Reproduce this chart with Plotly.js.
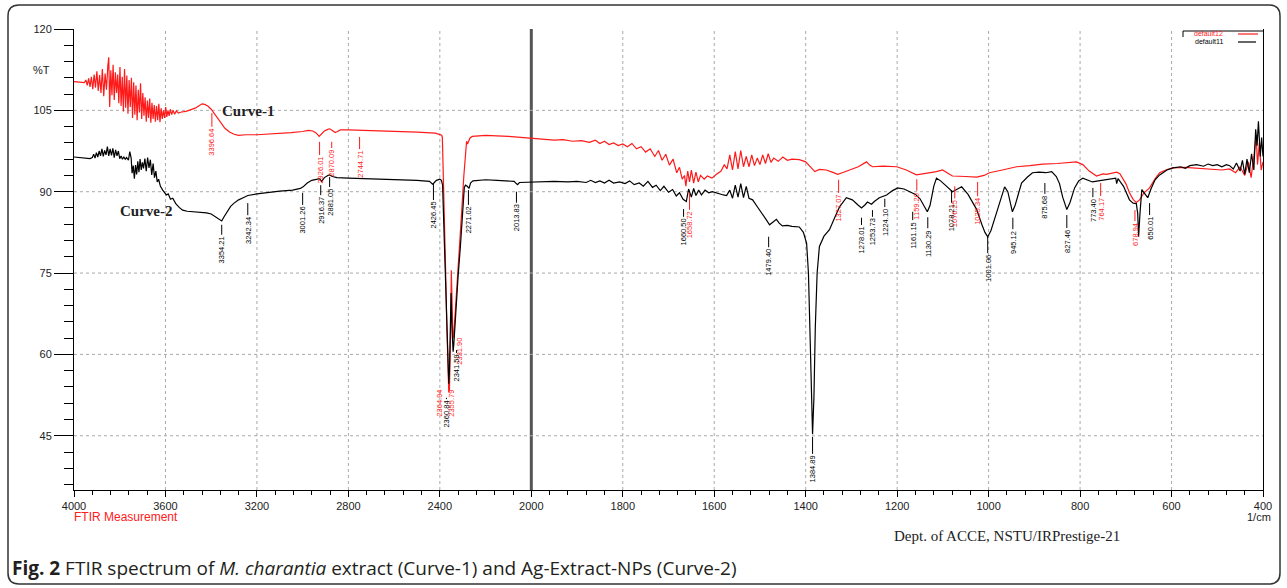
<!DOCTYPE html>
<html><head><meta charset="utf-8">
<script src="https://cdn.plot.ly/plotly-3.0.1.min.js"></script>
<style>html,body{margin:0;padding:0;background:#fff;}#chart{width:1287px;height:588px;}</style>
</head><body><div id="chart"></div>
<script>
// ---- DATA: [wavenumber (1/cm), %T] ----
const curve1 = [ // M. charantia extract (red, "default12")
[4000,110.3],[3975,110.2],[3955,110.1],[3948,110.6],[3942,109.6],[3936,110.9],[3930,109.3],[3924,111.2],[3918,108.9],[3912,111.6],[3906,109.2],[3900,112.2],[3894,108.6],[3888,111.5],[3882,108.2],[3876,112.6],[3870,107.6],[3864,111.8],[3858,108.8],[3852,113.2],[3848,114.8],[3844,105.6],[3839,112.4],[3834,107.8],[3829,113.4],[3824,106.9],[3819,112.0],[3814,108.2],[3809,111.6],[3804,106.3],[3799,113.0],[3794,105.8],[3789,111.2],[3784,104.8],[3779,112.6],[3774,105.5],[3769,111.4],[3764,104.4],[3759,110.6],[3754,105.6],[3749,111.0],[3744,103.6],[3739,110.2],[3734,104.2],[3729,109.6],[3724,103.2],[3719,108.8],[3714,104.6],[3709,110.0],[3704,103.4],[3699,108.2],[3694,104.0],[3689,107.4],[3684,102.9],[3679,106.8],[3674,103.6],[3669,107.2],[3664,102.7],[3659,106.4],[3654,103.4],[3649,106.0],[3644,102.9],[3639,105.8],[3634,103.2],[3629,106.2],[3624,102.8],[3619,105.4],[3614,103.4],[3609,105.0],[3604,103.6],[3599,105.6],[3594,103.8],[3589,105.0],[3584,104.0],[3579,105.2],[3573,104.2],[3567,105.0],[3560,104.3],[3552,104.9],[3544,104.5],[3530,104.7],[3510,104.8],[3490,105.1],[3470,105.4],[3455,105.8],[3440,106.2],[3428,106.1],[3415,105.8],[3400,105.2],[3385,104.3],[3370,103.3],[3355,102.4],[3340,101.7],[3320,101.0],[3300,100.6],[3280,100.4],[3250,100.5],[3200,100.5],[3150,100.6],[3100,100.7],[3050,100.9],[3000,101.1],[2975,101.3],[2955,101.2],[2940,100.8],[2928,100.2],[2918,100.6],[2905,101.2],[2890,101.5],[2882,101.6],[2870,101.3],[2858,100.9],[2848,101.1],[2835,101.4],[2800,101.4],[2700,101.3],[2600,101.2],[2500,101.0],[2420,100.8],[2400,100.6],[2392,100.4],[2389,100.0],
[2385,94],[2380,86],[2375,76],[2370,66],[2365,57],[2361,53.0],[2358,53.5],[2355,58],[2352,66],[2350,75.5],[2348,72],[2346,66],[2343,63.5],[2340,63.0],[2336,65.5],[2325,72],[2315,79],[2305,86],[2295,93],[2286,98.6],[2283,99.3],[2279,98.8],[2275,99.1],[2268,99.9],[2258,100.2],[2200,100.4],[2100,100.2],[2000,99.9],
[1980,99.7],[1950,99.5],[1930,99.6],[1910,99.3],[1890,99.4],[1873,99.1],[1860,99.5],[1850,98.9],[1840,99.3],[1830,98.7],[1820,99.0],[1810,98.5],[1800,98.8],[1790,98.3],[1780,98.9],[1770,97.9],[1760,98.3],[1750,97.3],[1740,97.9],[1730,96.5],[1722,97.6],[1714,95.8],[1706,96.9],[1698,94.9],[1690,96.0],[1682,93.5],[1676,94.5],[1670,92.3],[1665,93.0],[1662,91.0],[1658,93.8],[1654,91.8],[1650,94.0],[1645,91.6],[1640,93.6],[1635,91.8],[1630,93.0],[1622,92.3],[1615,92.9],[1605,92.5],[1595,93.2],[1585,93.8],[1578,95.0],[1572,94.2],[1566,96.8],[1560,94.0],[1554,97.4],[1548,94.2],[1542,97.6],[1536,94.6],[1530,96.5],[1524,94.6],[1518,96.8],[1512,94.8],[1506,96.2],[1500,95.0],[1494,96.8],[1488,95.2],[1482,97.0],[1476,95.4],[1470,96.2],[1460,95.6],[1450,96.4],[1440,95.8],[1430,96.0],[1414,95.9],[1400,95.5],[1390,94.6],[1380,93.7],[1370,94.1],[1355,94.0],[1342,93.6],[1330,93.2],[1320,93.5],[1304,94.0],[1285,94.6],[1267,95.5],[1260,94.9],[1254,94.6],[1230,94.7],[1201,94.6],[1180,94.0],[1158,93.1],[1140,93.3],[1114,93.7],[1101,94.0],[1090,93.5],[1079,92.9],[1050,92.8],[1026,92.7],[1010,93.0],[998,93.5],[970,94.0],[939,94.6],[910,94.8],[882,95.1],[850,95.2],[820,95.5],[808,95.5],[794,95.0],[780,93.8],[764,92.9],[750,93.3],[742,93.2],[729,93.5],[720,93.6],[713,93.3],[700,91.5],[692,89.8],[684,88.6],[677,88.0],[670,88.5],[660,89.8],[648,90.7],[635,92.5],[626,93.5],[610,94.1],[597,94.4],[570,94.5],[540,94.3],[510,94.2],[490,94.0],[473,94.2],[460,93.5],[450,94.6],[440,93.0],[432,95.5],[426,92.6],[420,96.5],[415,100.5],[412,95.0],[408,99.0],[404,94.0],[400,95.5]
];
const curve2 = [ // Ag-Extract-NPs (black, "default11")
[4000,96.4],[3975,96.3],[3950,96.2],[3930,96.1],[3920,96.3],[3914,96.9],[3908,96.2],[3902,97.2],[3896,96.4],[3890,97.5],[3884,96.6],[3878,97.9],[3872,96.5],[3866,97.6],[3860,96.8],[3854,98.3],[3848,96.6],[3842,97.9],[3836,96.7],[3830,98.0],[3824,96.3],[3818,97.7],[3812,96.6],[3806,97.5],[3800,96.1],[3794,96.6],[3788,96.0],[3782,96.4],[3776,96.0],[3770,96.3],[3762,95.8],[3756,97.4],[3750,96.2],[3746,93.4],[3741,94.8],[3736,92.4],[3731,94.9],[3726,93.2],[3721,95.6],[3716,93.6],[3711,96.0],[3706,94.0],[3701,95.4],[3696,94.3],[3690,96.1],[3684,93.8],[3678,96.3],[3672,94.4],[3666,95.9],[3660,93.1],[3654,95.2],[3648,92.6],[3642,93.8],[3636,91.8],[3630,92.3],[3622,91.0],[3612,90.3],[3604,89.8],[3596,89.4],[3588,89.6],[3578,88.6],[3568,88.8],[3555,87.8],[3540,87.1],[3525,86.6],[3505,86.4],[3480,86.3],[3450,86.3],[3420,86.1],[3400,85.9],[3380,85.4],[3365,84.9],[3354,84.6],[3345,85.3],[3330,86.3],[3315,87.3],[3300,87.9],[3280,88.5],[3260,88.9],[3240,89.3],[3200,89.6],[3150,89.9],[3100,90.1],[3044,90.3],[3010,90.6],[2998,90.9],[2980,91.6],[2960,92.1],[2940,92.3],[2926,92.4],[2917,91.9],[2905,92.6],[2890,93.0],[2882,93.1],[2870,92.8],[2850,92.6],[2800,92.5],[2700,92.4],[2600,92.3],[2500,92.1],[2445,91.9],[2432,91.4],[2426,91.6],[2415,92.1],[2400,92.3],[2393,92.1],[2388,91.2],
[2383,84.5],[2378,76],[2373,68],[2368,60],[2364,55],[2361,54.6],[2358,57],[2355,62],[2351,71.3],[2348,66],[2345,61.5],[2342,60.5],[2339,61.8],[2330,69],[2320,74.5],[2310,80],[2300,86.5],[2293,90.8],[2288,91.2],[2280,91.0],[2272,90.6],[2266,91.6],[2255,92.0],[2200,92.2],[2150,92.1],[2100,92.0],[2075,91.9],[2066,91.5],[2060,91.3],[2052,91.7],[2000,91.8],
[1982,91.8],[1950,91.9],[1920,91.8],[1900,91.9],[1880,91.7],[1870,92.1],[1860,91.7],[1850,92.0],[1840,91.6],[1830,92.1],[1820,91.6],[1807,91.8],[1795,91.5],[1785,92.0],[1775,91.3],[1764,91.6],[1755,91.0],[1745,91.9],[1735,90.8],[1727,91.2],[1718,90.2],[1710,91.0],[1700,89.9],[1691,90.4],[1683,89.2],[1676,89.8],[1668,88.6],[1661,88.2],[1656,90.5],[1650,89.0],[1645,90.6],[1640,89.3],[1634,90.3],[1628,89.4],[1620,90.3],[1612,89.8],[1604,90.0],[1590,89.6],[1580,89.4],[1573,89.3],[1566,90.3],[1560,88.8],[1554,91.2],[1548,89.0],[1542,91.5],[1536,88.9],[1530,91.0],[1524,88.8],[1516,88.5],[1508,87.5],[1501,86.7],[1493,85.8],[1486,84.8],[1479,83.9],[1472,84.3],[1464,84.9],[1458,84.2],[1451,83.7],[1440,83.8],[1430,83.6],[1414,83.5],[1405,82.5],[1398,80.5],[1394,75],[1390,62],[1387,50],[1385,45.3],[1382,52],[1379,65],[1375,75],[1370,79.9],[1360,81.8],[1348,83],[1335,85.5],[1326,87.2],[1311,88.9],[1298,88.5],[1285,87.5],[1278,87.0],[1270,87.6],[1265,88.1],[1256,87.7],[1250,88.2],[1239,88.9],[1223,89.4],[1210,90.2],[1199,90.7],[1185,90.5],[1173,90.0],[1160,89.5],[1150,88.7],[1140,87.3],[1134,86.3],[1128,87.5],[1120,91.0],[1114,92.5],[1105,92.0],[1096,91.3],[1085,90.4],[1079,90.0],[1070,90.4],[1059,90.9],[1045,89.5],[1035,88.0],[1026,86.7],[1015,84.0],[1008,82.5],[1002,81.7],[995,82.8],[985,85.5],[976,88.0],[970,89.8],[965,90.9],[958,90.0],[952,88.0],[948,86.3],[942,87.5],[935,89.8],[928,91.6],[915,92.7],[904,93.5],[890,93.6],[875,93.5],[862,93.7],[852,92.8],[845,91.5],[838,89.0],[829,86.7],[822,88.0],[812,90.7],[803,92.0],[794,92.5],[785,92.2],[773,91.8],[760,92.0],[742,92.2],[730,92.4],[722,92.5],[720,91.5],[717,92.4],[705,91.0],[692,88.5],[684,87.9],[677,87.8],[674,86],[672,81.7],[669,86],[665,90.4],[660,89.8],[652,88.9],[645,90.5],[636,92.2],[626,93.1],[610,94.0],[597,94.4],[580,94.6],[570,94.3],[560,94.8],[545,95.0],[530,94.7],[520,95.1],[510,94.8],[500,95.0],[490,94.6],[480,95.0],[473,94.8],[465,94.2],[458,95.3],[450,93.8],[445,95.8],[440,93.2],[435,96.0],[430,93.5],[425,97.0],[420,94.0],[416,101.5],[413,98.5],[410,103.0],[406,96.5],[403,100.0],[400,96.5]
];
const xTickLabels = ['4000','3600','3200','2800','2400','2000','1800','1600','1400','1200','1000','800','600','400'];
const yTickValues = [45,60,75,90,105,120];
// peak labels: [text, label x (1/cm), line top %T, text centre %T]
const redPeaks = [
['3396.64',3397,104.5,99.2],['2926.01',2926,99.2,94.0],['2870.09',2873,99.2,95.3],['2744.71',2751,100.1,95.1],
['2364.94',2402,53.5,51.0],['2355.79',2349,53.5,51.0],['2331.90',2314,63.2,60.6],['1658.72',1654,89.8,83.9],
['1327.07',1328,92.2,87.0],['1159.20',1157,92.3,87.4],['1076.25',1074,91.0,86.0],['1025.34',1024,91.8,86.4],
['764.17',755,91.6,86.8],['678.94',680,86.6,82.2]];
const blackPeaks = [
['3354.21',3354,83.9,79.3],['3242.34',3240,87.9,82.9],['3001.26',3000,89.8,84.8],['2916.37',2921,91.2,86.6],
['2881.05',2882,92.7,88.1],['2426.45',2428,91.6,85.7],['2360.84',2371,52.0,49.0],['2341.59',2327,60.8,57.5],
['2271.02',2275,90.3,84.8],['2013.83',2065,90.0,85.2],['1660.50',1667,86.8,82.6],['1479.40',1481,81.7,77.0],
['1384.89',1385,44.8,38.9],['1278.01',1278,85.2,81.1],['1253.73',1254,86.6,82.6],['1224.10',1227,88.7,84.4],
['1161.15',1166,86.3,82.0],['1130.29',1133,85.3,80.5],['1078.21',1081,90.3,85.2],['1001.06',1002,81.7,75.9],
['945.12',947,85.2,80.7],['875.68',877,91.6,87.2],['827.46',829,85.7,80.9],['773.40',772,90.7,86.6],['650.01',648,87.9,83.3]];

// ---- scale: 4000-2000 compressed, 2000-400 expanded x2 (IRPrestige style) ----
function toU(w){ return w >= 2000 ? 4000 - w : 2000 + 2*(2000 - w); }
const W=1287,H=588,ML=74,MR=24,MT=29,MB=98;
const PW=W-ML-MR, PH=H-MT-MB;
const pxX = x => (x-ML)/PW, pxY = y => (H-MB-y)/PH;

const traces = [
 {x: curve1.map(p=>toU(p[0])), y: curve1.map(p=>p[1]), mode:'lines', line:{color:'#ff1a1a', width:1.2}, hoverinfo:'skip'},
 {x: curve2.map(p=>toU(p[0])), y: curve2.map(p=>p[1]), mode:'lines', line:{color:'#000', width:1.2}, hoverinfo:'skip'}
];

const shapes = [];
for (let u=400; u<5200; u+=400){
  if (u===2000) continue;
  shapes.push({type:'line', xref:'x', yref:'paper', x0:u, x1:u, y0:0, y1:1, layer:'below', line:{color:'#aaa', width:1, dash:'dot'}});
}
shapes.push({type:'line', xref:'x', yref:'paper', x0:2000, x1:2000, y0:0, y1:1, layer:'below', line:{color:'#555', width:3}});
[45,60,75,90,105].forEach(v=>shapes.push({type:'line', xref:'paper', yref:'y', x0:0, x1:1, y0:v, y1:v, layer:'below', line:{color:'#aaa', width:1, dash:'dot'}}));
// legend box
shapes.push({type:'line', xref:'paper', yref:'paper', x0:pxX(1183), x1:pxX(1263), y0:pxY(31), y1:pxY(31), line:{color:'#000', width:1}});
shapes.push({type:'line', xref:'paper', yref:'paper', x0:pxX(1183), x1:pxX(1183), y0:pxY(31), y1:pxY(37), line:{color:'#000', width:1}});
shapes.push({type:'line', xref:'paper', yref:'paper', x0:pxX(1238), x1:pxX(1258), y0:pxY(34), y1:pxY(34), line:{color:'#ff1a1a', width:1.2}});
shapes.push({type:'line', xref:'paper', yref:'paper', x0:pxX(1238), x1:pxX(1256), y0:pxY(42), y1:pxY(42), line:{color:'#000', width:1.2}});
// rounded outer frame
(function(){
  const x0=8,y0=5,x1=1280,y1=584,r=11;
  const P=(x,y)=>pxX(x).toFixed(5)+','+pxY(y).toFixed(5);
  const path='M'+P(x0+r,y0)+' L'+P(x1-r,y0)+' Q'+P(x1,y0)+' '+P(x1,y0+r)+' L'+P(x1,y1-r)+' Q'+P(x1,y1)+' '+P(x1-r,y1)+
    ' L'+P(x0+r,y1)+' Q'+P(x0,y1)+' '+P(x0,y1-r)+' L'+P(x0,y0+r)+' Q'+P(x0,y0)+' '+P(x0+r,y0)+' Z';
  shapes.push({type:'path', xref:'paper', yref:'paper', path:path, line:{color:'#333', width:1.5}});
})();

const ann = [];
function peak(p, color){
  ann.push({x:toU(p[1]), y:p[2], xref:'x', yref:'y', ax:toU(p[1]), ay:p[3], axref:'x', ayref:'y',
    text:p[0], textangle:-90, showarrow:true, arrowhead:0, arrowwidth:1, arrowcolor:color, standoff:0,
    font:{family:'Liberation Sans, Arial, sans-serif', size:7.5, color:color}});
}
redPeaks.forEach(p=>peak(p,'#ff1a1a'));
blackPeaks.forEach(p=>peak(p,'#000'));
const sans='Liberation Sans, Arial, sans-serif', serif='Liberation Serif, Times New Roman, serif';
function txt(x, y, text, font, xanchor){
  ann.push({x:pxX(x), y:pxY(y), xref:'paper', yref:'paper', xanchor:xanchor||'center', yanchor:'middle', text:text, showarrow:false, font:font});
}
ann.push({x:toU(3236), y:104.9, xref:'x', yref:'y', text:'<b>Curve-1</b>', showarrow:false, font:{family:serif, size:15, color:'#222'}});
ann.push({x:toU(3681), y:86.4, xref:'x', yref:'y', text:'<b>Curve-2</b>', showarrow:false, font:{family:serif, size:15, color:'#222'}});
txt(41, 70, '%T', {family:sans, size:11, color:'#222'});
txt(72, 517, 'FTIR Measurement', {family:sans, size:12, color:'#ff2020'}, 'left');
txt(1259, 517, '1/cm', {family:sans, size:11, color:'#222'});
txt(1007, 536, 'Dept. of ACCE, NSTU/IRPrestige-21', {family:serif, size:15, color:'#222'});
txt(1208, 33.5, 'default12', {family:sans, size:7, color:'#ff1a1a'});
txt(1209, 41.5, 'default11', {family:sans, size:7, color:'#000'});
txt(10, 568, '<b>Fig. 2</b> FTIR spectrum of <i>M. charantia</i> extract (Curve-1) and Ag-Extract-NPs (Curve-2)', {family:'Open Sans, sans-serif', size:19, color:'#231f20'}, 'left');

const layout = {
  width:W, height:H, margin:{l:ML, r:MR, t:MT, b:MB}, paper_bgcolor:'#fff', plot_bgcolor:'#fff', showlegend:false,
  xaxis:{range:[0,5200], tickmode:'array', tickvals:xTickLabels.map(t=>toU(+t)), ticktext:xTickLabels,
    showgrid:false, zeroline:false, showline:true, linecolor:'#000', linewidth:1, ticks:'outside', ticklen:6, tickcolor:'#000',
    minor:{tickmode:'linear', tick0:0, dtick:80, ticks:'outside', ticklen:4, tickcolor:'#000', showgrid:false},
    tickfont:{family:sans, size:11, color:'#222'}},
  yaxis:{range:[35,120], tickmode:'array', tickvals:yTickValues, showgrid:false, zeroline:false, showline:true, mirror:true,
    linecolor:'#000', linewidth:1, ticks:'outside', ticklen:19, tickcolor:'#000',
    minor:{tickmode:'linear', tick0:0, dtick:3, ticks:'outside', ticklen:9, tickcolor:'#000', showgrid:false},
    tickfont:{family:sans, size:11, color:'#222'}},
  shapes:shapes, annotations:ann
};
Plotly.newPlot('chart', traces, layout, {staticPlot:true});
</script></body></html>
